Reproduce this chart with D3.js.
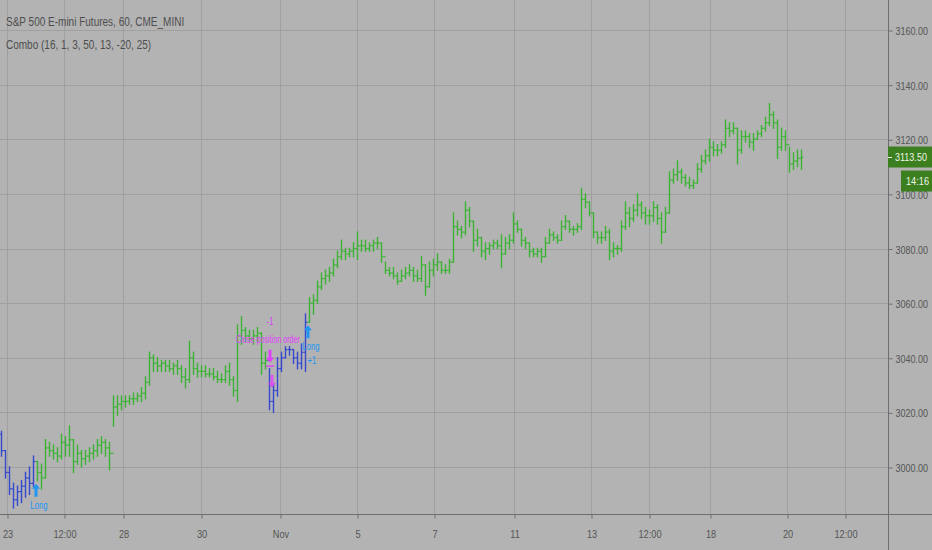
<!DOCTYPE html>
<html>
<head>
<meta charset="utf-8">
<script src="https://cdn.jsdelivr.net/npm/d3@7"></script>
<style>
html,body{margin:0;padding:0;background:#b3b3b3;}
svg{display:block;}
text{font-family:"Liberation Sans",Arial,sans-serif;}
</style>
</head>
<body>
<svg id="chart" width="932" height="550"></svg>
<script>
// ---------- data ----------
const title = "S&P 500 E-mini Futures, 60, CME_MINI";
const indicatorLabel = "Combo (16, 1, 3, 50, 13, -20, 25)";

const highs = [
3013,3006,3000,2994,2993,2995,2998,3000,3004,3002,
3001,3010,3009,3008,3007,3012,3011,3015,3010,3008,
3006,3006,3007,3008,3010,3011,3010,3009,3026,3026,
3026,3026,3026,3027,3027,3029,3033,3042,3041,3040,
3039,3039,3039,3038,3039,3037,3036,3046,3042,3038,
3037,3037,3036,3036,3035,3034,3037,3038,3033,3052,
3055,3051,3050,3050,3051,3049,3042,3036,3030,3040,
3042,3044,3044,3043,3042,3045,3056,3062,3063,3068,
3071,3072,3073,3076,3079,3083,3080,3080,3082,3086,
3083,3083,3082,3083,3084,3082,3075,3073,3073,3071,
3072,3073,3074,3073,3072,3077,3074,3075,3076,3078,
3075,3074,3076,3093,3090,3088,3097,3095,3090,3087,
3084,3082,3082,3083,3083,3085,3084,3085,3093,3090,
3087,3084,3082,3080,3080,3080,3084,3087,3086,3085,
3090,3092,3090,3088,3089,3102,3100,3097,3093,3086,
3086,3088,3087,3082,3081,3090,3097,3095,3096,3100,
3097,3095,3094,3097,3096,3093,3095,3108,3109,3112,
3109,3107,3106,3105,3111,3114,3116,3120,3119,3118,
3119,3127,3126,3126,3124,3123,3123,3122,3122,3123,
3125,3128,3133,3130,3127,3124,3123,3117,3115,3116,
3116];

const lows = [
3004,2996,2990,2985,2986,2987,2989,2990,2993,2995,
2992,2996,3004,3003,3002,3003,3004,3004,2998,3001,
3000,3001,3002,3003,3004,3005,3004,2999,3015,3019,
3021,3022,3023,3023,3024,3024,3025,3030,3035,3035,
3035,3035,3035,3034,3034,3031,3029,3031,3034,3033,
3033,3033,3033,3032,3031,3031,3031,3030,3026,3024,
3045,3046,3046,3045,3046,3034,3036,3021,3020,3026,
3035,3040,3041,3038,3036,3036,3035,3053,3056,3060,
3065,3067,3068,3070,3073,3076,3076,3077,3077,3076,
3079,3079,3079,3079,3080,3075,3071,3070,3069,3067,
3068,3069,3070,3068,3068,3068,3063,3066,3070,3072,
3071,3071,3071,3075,3085,3084,3085,3088,3079,3081,
3077,3076,3078,3080,3080,3073,3078,3080,3082,3086,
3081,3080,3077,3077,3077,3075,3077,3082,3083,3082,
3083,3087,3086,3085,3086,3087,3095,3092,3084,3082,
3082,3083,3076,3077,3078,3079,3087,3088,3090,3092,
3091,3089,3089,3090,3089,3082,3086,3093,3104,3105,
3104,3103,3102,3102,3104,3108,3111,3112,3114,3114,
3115,3117,3121,3122,3111,3115,3119,3117,3116,3120,
3121,3123,3125,3124,3113,3116,3116,3108,3109,3110,
3109];

const closes = [
3006,2998,2992,2988,2991,2993,2996,2994,3002,2998,
2996,3007,3006,3005,3004,3009,3008,3010,3002,3005,
3003,3004,3005,3006,3008,3009,3007,3005,3022,3023,
3024,3024,3025,3025,3026,3027,3031,3040,3038,3037,
3038,3037,3036,3037,3036,3033,3032,3040,3036,3035,
3035,3034,3034,3033,3032,3032,3035,3032,3028,3048,
3050,3048,3047,3048,3049,3038,3039,3024,3028,3036,
3040,3043,3043,3040,3038,3042,3053,3060,3061,3066,
3069,3070,3071,3074,3077,3079,3078,3079,3080,3081,
3081,3080,3081,3082,3082,3077,3072,3071,3070,3068,
3070,3071,3072,3070,3069,3074,3066,3072,3074,3075,
3072,3072,3075,3088,3087,3086,3094,3090,3083,3084,
3079,3080,3081,3082,3081,3078,3082,3083,3089,3087,
3083,3082,3079,3078,3079,3077,3082,3085,3084,3083,
3088,3090,3087,3087,3088,3098,3097,3093,3086,3084,
3084,3086,3079,3080,3080,3088,3093,3091,3094,3096,
3093,3092,3092,3095,3091,3086,3093,3105,3107,3108,
3106,3104,3103,3104,3109,3112,3114,3117,3116,3116,
3118,3124,3123,3124,3116,3121,3121,3119,3120,3122,
3124,3126,3129,3126,3117,3121,3118,3111,3112,3113,
3113.5];

const firstOpen = 3012;
// bar index spans where the strategy was not long (drawn blue)
const blueSpans = [[0, 8], [67, 76]];

const priceTicks = [3000, 3020, 3040, 3060, 3080, 3100, 3120, 3140, 3160];
// time ticks, given as bar-index positions
const timeTickPos = [1.5, 15.75, 30.5, 50, 69.75, 89, 108.25, 128.25, 147.5, 162, 177.25, 196.5, 211];
const timeTickLabels = ["23", "12:00", "28", "30", "Nov", "5", "7", "11", "13", "12:00", "18", "20", "12:00"];

const lastPrice = 3113.5;
const countdown = "14:16";

const longSignals = [
  {bar: 9, label: "Long", qty: ""},
  {bar: 77, label: "Long", qty: "+1"}
];
const closeSignals = [
  {bar: 67, label: "Close position order", qty: "-1"}
];

// ---------- layout ----------
const W = 932, H = 550;
const plotRight = 888, plotBottom = 514;
const bg = "#b3b3b3", gridColor = "#a0a0a0", axisColor = "#6e6e6e", textColor = "#555555";
const green = "#3cb334", blue = "#3449cf", longColor = "#2196f3", closeColor = "#e040fb";
const labelGreen = "#3b7f1e";
const SQ = 0.8; // horizontal squeeze of the narrow chart font

function condense(sel, ratio) {
  sel.each(function () {
    const w = this.getComputedTextLength();
    d3.select(this).attr("textLength", w * ratio).attr("lengthAdjust", "spacingAndGlyphs");
  });
}
// narrow text drawn through a horizontal scale transform
function narrowText(parent, px, py, str, size, fill, ratio, anchor) {
  return parent.append("text")
    .attr("transform", `translate(${px},${py}) scale(${ratio},1)`)
    .attr("x", 0).attr("y", 0).attr("text-anchor", anchor || "start")
    .attr("font-size", size).attr("fill", fill).text(str);
}

const svg = d3.select("#chart");
svg.append("rect").attr("width", W).attr("height", H).attr("fill", bg);

const x = d3.scaleLinear().domain([-0.25, 221.75]).range([0, plotRight]);
const y = d3.scaleLinear().domain([3000, 3160]).range([467, 30]);

// grid
const grid = svg.append("g");
grid.selectAll("line.h").data(priceTicks).join("line")
  .attr("x1", 0).attr("x2", plotRight)
  .attr("y1", d => Math.round(y(d)) + 0.5).attr("y2", d => Math.round(y(d)) + 0.5)
  .attr("stroke", gridColor).attr("stroke-width", 1);
grid.selectAll("line.v").data(timeTickPos).join("line")
  .attr("x1", d => Math.round(x(d)) + 0.5).attr("x2", d => Math.round(x(d)) + 0.5)
  .attr("y1", 0).attr("y2", plotBottom)
  .attr("stroke", gridColor).attr("stroke-width", 1);

// bars (OHLC)
const isBlue = i => blueSpans.some(s => i >= s[0] && i <= s[1]);
const bars = svg.append("g");
closes.forEach((c, i) => {
  const o = i === 0 ? firstOpen : closes[i - 1];
  const cx = Math.round(x(i)) + 0.5;
  const col = isBlue(i) ? blue : green;
  bars.append("line").attr("x1", cx).attr("x2", cx)
    .attr("y1", y(highs[i])).attr("y2", y(lows[i]))
    .attr("stroke", col).attr("stroke-width", 1.4).attr("stroke-linecap", "square");
  bars.append("line").attr("x1", cx - 2).attr("x2", cx)
    .attr("y1", y(o)).attr("y2", y(o))
    .attr("stroke", col).attr("stroke-width", 1.2);
  bars.append("line").attr("x1", cx).attr("x2", cx + 2)
    .attr("y1", y(c)).attr("y2", y(c))
    .attr("stroke", col).attr("stroke-width", 1.2);
});

// signals
const ann = svg.append("g");
function upArrow(cx, tipY) {
  return `M${cx},${tipY} L${cx + 4},${tipY + 5} L${cx + 1.5},${tipY + 5} L${cx + 1.5},${tipY + 13} L${cx - 1.5},${tipY + 13} L${cx - 1.5},${tipY + 5} L${cx - 4},${tipY + 5} Z`;
}
function downArrow(cx, tipY) {
  return `M${cx},${tipY} L${cx + 4},${tipY - 5} L${cx + 1.5},${tipY - 5} L${cx + 1.5},${tipY - 13} L${cx - 1.5},${tipY - 13} L${cx - 1.5},${tipY - 5} L${cx - 4},${tipY - 5} Z`;
}
longSignals.forEach(s => {
  const cx = x(s.bar) - 1;
  const tip = y(lows[s.bar]) + 3;
  ann.append("path").attr("d", upArrow(cx, tip)).attr("fill", longColor);
  narrowText(ann, cx + 3, tip + 25, s.label, 10, longColor, 0.78, "middle");
  if (s.qty) narrowText(ann, cx + 4, tip + 39, s.qty, 10, longColor, 0.78, "middle");
});
closeSignals.forEach(s => {
  const cx = x(s.bar) + 1;
  const top = y(highs[s.bar]);
  ann.append("path").attr("d", downArrow(cx, top - 6)).attr("fill", closeColor);
  ann.append("line").attr("x1", cx - 4).attr("x2", cx + 4).attr("y1", top - 2.5).attr("y2", top - 2.5)
    .attr("stroke", closeColor).attr("stroke-width", 1.5);
  ann.append("path").attr("d", downArrow(cx + 2, top + 19)).attr("fill", closeColor).attr("opacity", 0.8);
  narrowText(ann, cx - 2, top - 26, s.label, 10, closeColor, 0.72, "middle");
  narrowText(ann, cx, top - 44, s.qty, 10, closeColor, 0.78, "middle");
});

// axes
const yAxis = d3.axisRight(y).tickValues(priceTicks).tickFormat("").tickSize(4);
const gy = svg.append("g").attr("transform", `translate(${plotRight + 0.5},0.5)`).call(yAxis);
gy.select(".domain").remove();
gy.selectAll(".tick line").attr("stroke", axisColor);
const fmt = d3.format(".2f");
gy.selectAll(".tick").each(function (d) {
  narrowText(d3.select(this), 7, 4, fmt(d), 11, textColor, 0.82);
});

const xAxis = d3.axisBottom(x).tickValues(timeTickPos).tickFormat((d, i) => timeTickLabels[i]).tickSize(4).tickPadding(11);
const gx = svg.append("g").attr("transform", `translate(0.5,${plotBottom + 0.5})`).call(xAxis);
gx.select(".domain").remove();
gx.selectAll(".tick line").attr("stroke", axisColor);
gx.selectAll(".tick text").attr("fill", textColor).attr("font-size", 11.5)
  .attr("font-family", "'Liberation Sans',Arial,sans-serif");
condense(gx.selectAll(".tick text"), SQ);

svg.append("line").attr("x1", plotRight + 0.5).attr("x2", plotRight + 0.5).attr("y1", 0).attr("y2", H)
  .attr("stroke", axisColor).attr("stroke-width", 1);
svg.append("line").attr("x1", 0).attr("x2", W).attr("y1", plotBottom + 0.5).attr("y2", plotBottom + 0.5)
  .attr("stroke", axisColor).attr("stroke-width", 1);

// last price label
const ly = y(lastPrice);
svg.append("rect").attr("x", plotRight).attr("y", ly - 10.5).attr("width", W - plotRight).attr("height", 21)
  .attr("fill", labelGreen);
svg.append("line").attr("x1", plotRight).attr("x2", plotRight + 4).attr("y1", Math.round(ly) + 0.5).attr("y2", Math.round(ly) + 0.5)
  .attr("stroke", "#e8f0e0");
narrowText(svg, plotRight + 7, ly + 4, fmt(lastPrice), 11, "#eef5e8", 0.82);
svg.append("rect").attr("x", 901).attr("y", ly + 13.5).attr("width", W - 901).attr("height", 21)
  .attr("fill", labelGreen);
narrowText(svg, 906, ly + 28, countdown, 11.5, "#eef5e8", 0.8);

// titles
const t1 = svg.append("text").attr("x", 6).attr("y", 26).attr("font-size", 12.5).attr("fill", "#4e4e4e").text(title);
const t2 = svg.append("text").attr("x", 6).attr("y", 49).attr("font-size", 12.5).attr("fill", "#4e4e4e").text(indicatorLabel);
condense(t1, 0.8);
condense(t2, 0.8);
</script>
</body>
</html>
